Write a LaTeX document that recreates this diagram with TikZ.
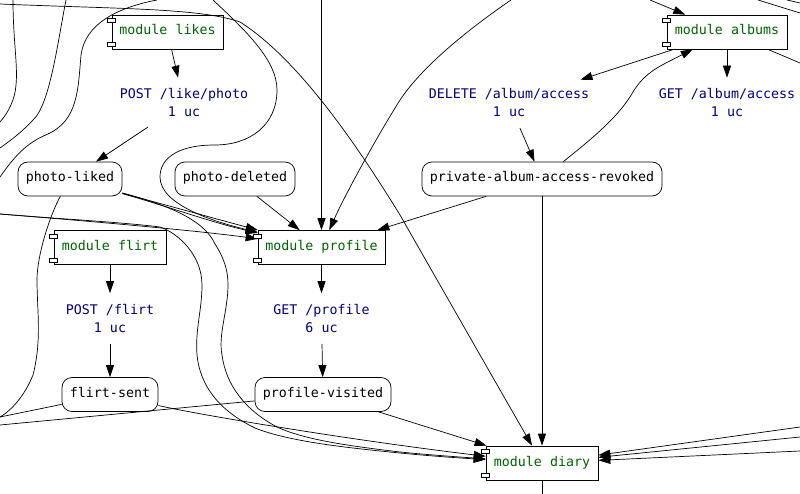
\documentclass[tikz,border=0pt]{standalone}
\usepackage{fontspec}
\setmonofont{DejaVu Sans Mono}
\usepackage{xcolor}
\usetikzlibrary{arrows.meta}
\definecolor{modulegreen}{RGB}{0,100,0}
\definecolor{routeblue}{RGB}{0,0,128}

\begin{document}
\begin{tikzpicture}[x=1pt,y=-1pt, every node/.style={font=\ttfamily\fontsize{13.3}{18}\selectfont},
    >={Triangle[length=12pt,width=8pt]}, line width=0.7pt]
  \tikzstyle{modulebox}=[rectangle, draw, fill=white, minimum height=34pt, inner sep=0pt, text height=10pt, text depth=4pt, text=modulegreen]
  \tikzstyle{eventbox}=[rectangle, rounded corners=10pt, draw, fill=white, minimum height=34pt, inner sep=0pt, text height=10pt, text depth=4pt]
  \tikzstyle{routetext}=[align=center, minimum height=44pt, inner sep=0pt, text=routeblue]
  \tikzstyle{tolabel}=[shorten >=3pt]
  \tikzstyle{fromlabel}=[shorten <=3pt]
  \useasboundingbox (0,0) rectangle (800,494);

  \node[modulebox, minimum width=111pt] (likes) at (167.5,32) {module likes};
  \node[modulebox, minimum width=112pt] (flirt) at (110,247.5) {module flirt};
  \node[modulebox, minimum width=127pt] (profile) at (321.5,247.5) {module profile};
  \node[modulebox, minimum width=112pt] (diary) at (542,463) {module diary};
  \node[modulebox, minimum width=120pt] (albums) at (727,32) {module albums};

  \node[routetext] (postlike) at (184,103) {POST /like/photo\\1 uc};
  \node[routetext] (delalbum) at (509,103) {DELETE /album/access\\1 uc};
  \node[routetext] (getalbum) at (727,103) {GET /album/access\\1 uc};
  \node[routetext] (postflirt) at (110,318.5) {POST /flirt\\1 uc};
  \node[routetext] (getprofile) at (321.5,318.5) {GET /profile\\6 uc};

  \node[eventbox, minimum width=104pt] (liked) at (70,179) {photo-liked};
  \node[eventbox, minimum width=120pt] (deleted) at (235,179) {photo-deleted};
  \node[eventbox, minimum width=240pt] (revoked) at (542,179) {private-album-access-revoked};
  \node[eventbox, minimum width=96pt] (sent) at (110,394.5) {flirt-sent};
  \node[eventbox, minimum width=136pt] (visited) at (323,394.5) {profile-visited};

  % free ends on the edge of the picture
  \coordinate (topa) at (13,0);
  \coordinate (topb) at (66,0);
  \coordinate (topc) at (157,0);
  \coordinate (topd) at (213,0);
  \coordinate (tope) at (321.5,0);
  \coordinate (topf) at (511,0);
  \coordinate (topg) at (650,0);
  \coordinate (toph) at (758,0);
  \coordinate (topi) at (787,0);
  \coordinate (lefta) at (0,122);
  \coordinate (leftb) at (0,148);
  \coordinate (leftc) at (0,177);
  \coordinate (leftd) at (0,4);
  \coordinate (lefte) at (0,214);
  \coordinate (leftf) at (0,417);
  \coordinate (leftg) at (0,425);
  \coordinate (righta) at (800,427);
  \coordinate (rightb) at (800,437);
  \coordinate (rightc) at (800,451);
  \coordinate (rightd) at (800,63);
  \coordinate (righte) at (800,13);
  \coordinate (rightf) at (800,3);
  \coordinate (bottoma) at (542,494);

  \draw (topa) .. controls (13,40) and (18,65) .. (16,85) .. controls (15,100) and (8,113) .. (lefta);
  \draw (topb) .. controls (58,40) and (50,105) .. (33,120) .. controls (22,132) and (10,141) .. (leftb);
  \draw (topc) .. controls (115,8) and (85,25) .. (81,55) .. controls (78,90) and (78,120) .. (48,134)
    .. controls (25,143) and (12,160) .. (leftc);
  \draw[->] (leftd) .. controls (120,9) and (200,8) .. (240,22) .. controls (300,60) and (360,150) .. (400,215)
    .. controls (440,285) and (500,390) .. (diary);
  \draw[->] (topd) .. controls (245,30) and (277,60) .. (277,90) .. controls (277,125) and (250,145) .. (215,145)
    .. controls (175,145) and (160,160) .. (160,177) .. controls (160,205) and (215,222) .. (profile);
  \draw[->] (tope) -- (profile);
  \draw[->] (topf) .. controls (460,35) and (420,70) .. (400,100) .. controls (375,140) and (345,195) .. (profile);
  \draw[->] (revoked) -- (profile);
  \draw[->] (deleted) -- (profile);
  \draw[->] (liked) -- (profile);
  \draw[->] (liked) .. controls (170,207) and (210,222) .. (profile);
  \draw[->] (lefte) .. controls (100,222) and (200,231) .. (profile);
  \draw[->] (lefte) .. controls (60,219) and (120,222) .. (160,227) .. controls (178,233) and (202,255) .. (202,285)
    .. controls (202,310) and (195,330) .. (197,355) .. controls (200,385) and (218,410) .. (255,428)
    .. controls (290,442) and (350,448) .. (400,453) .. controls (430,456) and (460,458) .. (diary);
  \draw[->] (liked) .. controls (175,207) and (205,222) .. (215,244) .. controls (224,258) and (228,270) .. (228,285)
    .. controls (228,310) and (218,335) .. (222,355) .. controls (226,385) and (245,410) .. (277,427)
    .. controls (305,440) and (350,446) .. (400,452) .. controls (430,455) and (460,457) .. (diary);
  \draw (liked) .. controls (50,215) and (37,255) .. (37,280) .. controls (37,310) and (42,340) .. (33,375)
    .. controls (25,395) and (12,410) .. (leftf);

  \draw[->, tolabel] (likes) -- (postlike);
  \draw[->, fromlabel] (postlike) -- (liked);
  \draw[->, tolabel] (flirt) -- (postflirt);
  \draw[->, fromlabel] (postflirt) -- (sent);
  \draw[->, tolabel] (profile) -- (getprofile);
  \draw[->, fromlabel] (getprofile) -- (visited);
  \draw[->, tolabel] (albums) -- (delalbum);
  \draw[->, fromlabel] (delalbum) -- (revoked);
  \draw[->, tolabel] (albums) -- (getalbum);
  \draw[->] (revoked) .. controls (590,140) and (618,118) .. (633,92) .. controls (645,72) and (660,66) .. (albums);
  \draw[->] (topg) -- (albums);
  \draw (albums) -- (rightd);
  \draw (toph) -- (righte);
  \draw (topi) -- (rightf);

  \draw (sent) -- (leftf);
  \draw (visited) -- (leftg);
  \draw[->] (sent) .. controls (200,415) and (350,440) .. (diary);
  \draw[->] (visited) -- (diary);
  \draw[->] (revoked) -- (diary);
  \draw[->] (righta) -- (diary);
  \draw[->] (rightb) -- (diary);
  \draw[->] (rightc) -- (diary);
  \draw (diary) -- (bottoma);

  \foreach \m in {likes,flirt,profile,diary,albums} {
    \draw[fill=white, line width=0.4pt] ([xshift=-4pt,yshift=-4pt]\m.north west) rectangle +(8,4);
    \draw[fill=white, line width=0.4pt] ([xshift=-4pt,yshift=7pt]\m.south west) rectangle +(8,4);
  }
\end{tikzpicture}
\end{document}
